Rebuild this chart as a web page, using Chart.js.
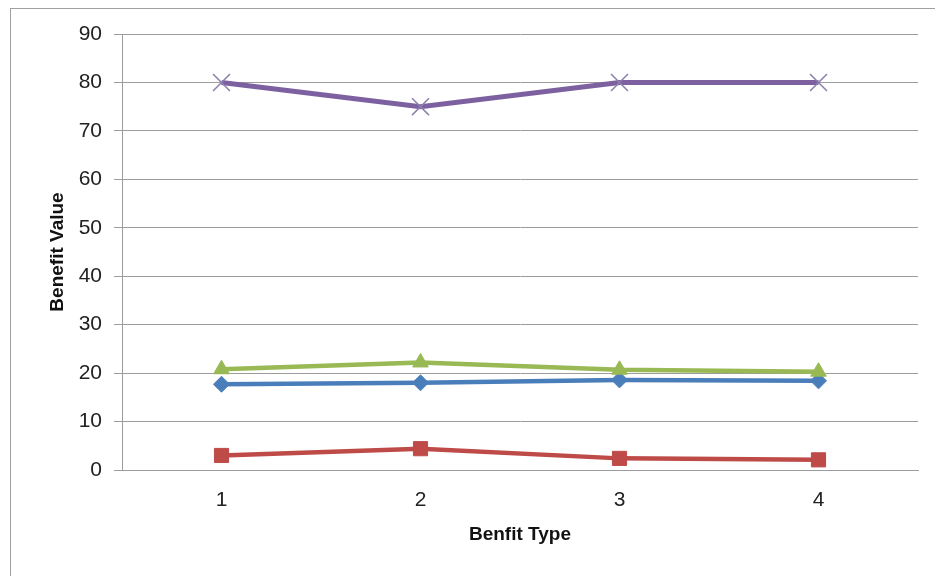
<!DOCTYPE html>
<html>
<head>
<meta charset="utf-8">
<script src="https://cdn.jsdelivr.net/npm/chart.js@4/dist/chart.umd.min.js"></script>
<style>
  html, body { margin: 0; padding: 0; background: #fff; overflow: hidden; }
  #frame {
    position: absolute; left: 10px; top: 8px;
    width: 960px; height: 600px;
    border: 1px solid #a0a0a0;
  }
  #wrap { position: absolute; left: 0; top: 0; width: 935px; height: 576px; }
</style>
</head>
<body>
<div id="frame"></div>
<div id="wrap"><canvas id="benefitChart" width="935" height="576"></canvas></div>
<script>
// categories and series
const benefitTypes = ["1", "2", "3", "4"];
const seriesBlue = [17.7, 18.0, 18.6, 18.4];
const seriesRed = [3.0, 4.4, 2.4, 2.1];
const seriesGreen = [20.8, 22.2, 20.7, 20.3];
const seriesPurple = [80, 75, 80, 80];
const yTicks = [0, 10, 20, 30, 40, 50, 60, 70, 80, 90];

const FONT = "'Liberation Sans', Arial, sans-serif";
const GRID = "#9c9c9c";

function makeSeries(data, color, style, radius, order, extra = {}) {
  return Object.assign({
    data,
    borderColor: color,
    backgroundColor: color,
    pointBackgroundColor: color,
    pointBorderColor: color,
    pointStyle: style,
    pointRadius: radius,
    pointBorderWidth: 1,
    borderWidth: 4.5,
    tension: 0,
    order
  }, extra);
}

const ctx = document.getElementById("benefitChart");

new Chart(ctx, {
  type: "line",
  data: {
    labels: benefitTypes,
    datasets: [
      makeSeries(seriesBlue, "#4a7ebb", "rectRot", 8, 4),
      makeSeries(seriesRed, "#be4b48", "rect", 10, 3),
      makeSeries(seriesGreen, "#98b954", "triangle", 9, 2),
      makeSeries(seriesPurple, "#7d60a0", "crossRot", 12, 1, {
        pointBorderColor: "#8c7fae",
        pointBorderWidth: 1.5,
        borderWidth: 5
      })
    ]
  },
  options: {
    responsive: false,
    animation: false,
    layout: { padding: { top: 34, right: 17, left: 0, bottom: 0 } },
    plugins: {
      legend: { display: false },
      tooltip: { enabled: false }
    },
    scales: {
      x: {
        offset: true,
        grid: { display: false, drawTicks: false },
        border: { display: true, color: GRID, width: 1 },
        ticks: {
          padding: 18,
          color: "#222",
          font: { family: FONT, size: 21 }
        },
        title: {
          display: true,
          text: "Benfit Type",
          color: "#111",
          font: { family: FONT, size: 19, weight: "bold" },
          padding: { top: 0, bottom: 30 }
        },
        afterFit(scale) { scale.height = 106; }
      },
      y: {
        min: 0,
        max: 90,
        afterBuildTicks(scale) { scale.ticks = yTicks.map(v => ({ value: v })); },
        grid: { color: GRID, lineWidth: 1, drawTicks: true, tickLength: 8 },
        border: { display: true, color: GRID, width: 1 },
        ticks: {
          padding: 12,
          color: "#222",
          font: { family: FONT, size: 21 }
        },
        title: {
          display: true,
          text: "Benefit Value",
          color: "#111",
          font: { family: FONT, size: 19, weight: "bold" },
          padding: { top: 46, bottom: 0 }
        },
        afterFit(scale) { scale.width = 122; }
      }
    }
  }
});
</script>
</body>
</html>
